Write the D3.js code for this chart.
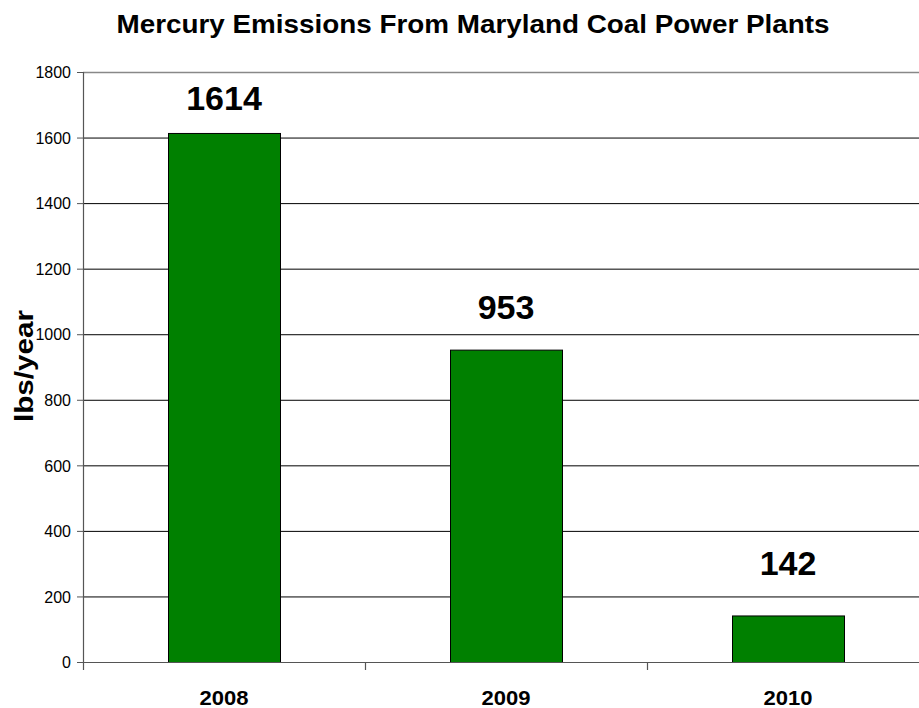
<!DOCTYPE HTML>
<html>
  <head>
    <script src="https://d3js.org/d3.v7.min.js"></script>
    <style>
      body { margin: 0; background: #fff; }
      svg { display: block; font-family: Arial, "Liberation Sans", sans-serif; }
      .bar { fill: #008000; stroke: #000; stroke-width: 1; }
      .grid line { stroke: #000; stroke-width: 1; }
      .ytick text { font-size: 16px; fill: #000; }
      .xlab { font-size: 21px; font-weight: bold; text-anchor: middle; }
      .vlab { font-size: 34px; font-weight: bold; text-anchor: middle; }
    </style>
    <title>Mercury Emissions From Maryland Coal Power Plants</title>
  </head>
  <body>
    <svg id="chart"></svg>
    <script>
      var years = ["2008", "2009", "2010"];
      var emissions = [1614, 953, 142];
      var yTicks = [0, 200, 400, 600, 800, 1000, 1200, 1400, 1600, 1800];

      var width = 919, height = 708;
      var mLeft = 83, mTop = 72, mBottom = 662, mRight = 929;

      var svg = d3.select("#chart").attr("width", width).attr("height", height);

      var x = d3.scaleBand().domain(years).range([mLeft, mRight]).paddingInner(0).paddingOuter(0);
      var y = d3.scaleLinear().domain([0, 1800]).range([mBottom, mTop]);

      // gridlines
      svg.append("g").attr("class", "grid").selectAll("line")
        .data(yTicks.filter(function(d){ return d > 0 && d < 1800; }))
        .enter().append("line")
        .attr("x1", mLeft).attr("x2", mRight)
        .attr("y1", function(d){ return y(d) + 0.5; })
        .attr("y2", function(d){ return y(d) + 0.5; });

      // top border
      svg.append("line").attr("x1", mLeft).attr("x2", mRight)
        .attr("y1", y(1800) + 0.5).attr("y2", y(1800) + 0.5)
        .attr("stroke", "#888").attr("stroke-width", 1.5);

      // bars
      var bw = 112;
      svg.selectAll("rect.bar").data(emissions).enter().append("rect")
        .attr("class", "bar")
        .attr("x", function(d, i){ return x(years[i]) + x.bandwidth()/2 - bw/2 + 0.5; })
        .attr("y", function(d){ return y(d) + 0.5; })
        .attr("width", bw)
        .attr("height", function(d){ return y(0) - y(d); });

      // y axis
      var yAxis = svg.append("g").attr("class", "ytick");
      yAxis.append("line").attr("x1", mLeft + 0.5).attr("x2", mLeft + 0.5)
        .attr("y1", mTop).attr("y2", mBottom + 8).attr("stroke", "#555").attr("stroke-width", 1.2);
      var yt = yAxis.selectAll("g").data(yTicks).enter().append("g")
        .attr("transform", function(d){ return "translate(0," + (y(d) + 0.5) + ")"; });
      yt.append("line").attr("x1", mLeft - 6).attr("x2", mLeft).attr("stroke", "#555");
      yt.append("text").attr("x", mLeft - 12).attr("dy", "0.36em")
        .attr("text-anchor", "end").text(function(d){ return d; });

      // x axis
      svg.append("line").attr("x1", mLeft).attr("x2", mRight)
        .attr("y1", mBottom + 0.5).attr("y2", mBottom + 0.5).attr("stroke", "#555").attr("stroke-width", 1.2);
      svg.selectAll("line.xtick").data(years.slice(1)).enter().append("line")
        .attr("class", "xtick")
        .attr("x1", function(d){ return x(d) + 0.5; }).attr("x2", function(d){ return x(d) + 0.5; })
        .attr("y1", mBottom).attr("y2", mBottom + 8).attr("stroke", "#555").attr("stroke-width", 1.2);

      svg.selectAll("text.xlab").data(years).enter().append("text")
        .attr("class", "xlab")
        .attr("x", function(d){ return x(d) + x.bandwidth()/2; })
        .attr("y", 705)
        .attr("textLength", 49).attr("lengthAdjust", "spacingAndGlyphs")
        .text(function(d){ return d; });

      // value labels (gap above bar as in the original)
      var labelGap = [23, 31, 40];
      svg.selectAll("text.vlab").data(emissions).enter().append("text")
        .attr("class", "vlab")
        .attr("x", function(d, i){ return x(years[i]) + x.bandwidth()/2; })
        .attr("y", function(d, i){ return y(d) - labelGap[i]; })
        .text(function(d){ return d; });

      // title
      svg.append("text").attr("x", 473).attr("y", 33)
        .attr("text-anchor", "middle").attr("font-size", 25).attr("font-weight", "bold")
        .attr("textLength", 713).attr("lengthAdjust", "spacingAndGlyphs")
        .text("Mercury Emissions From Maryland Coal Power Plants");

      // y axis title
      svg.append("text")
        .attr("transform", "translate(33,366) rotate(-90)")
        .attr("text-anchor", "middle").attr("font-size", 25).attr("font-weight", "bold")
        .attr("textLength", 112).attr("lengthAdjust", "spacingAndGlyphs")
        .text("lbs/year");
    </script>
  </body>
</html>
